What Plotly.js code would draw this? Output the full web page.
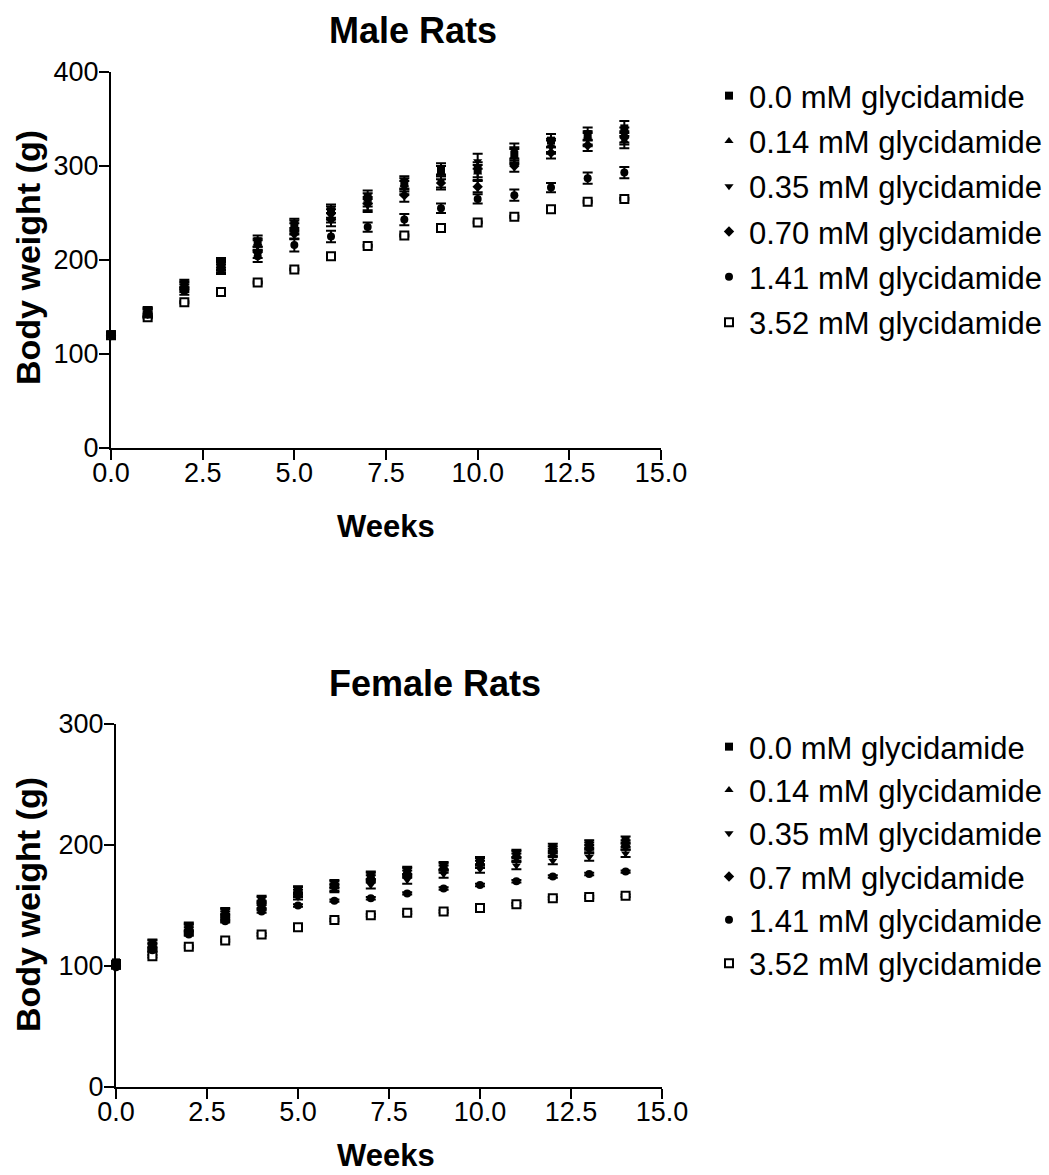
<!DOCTYPE html>
<html>
<head>
<meta charset="utf-8">
<script src="https://cdn.plot.ly/plotly-3.0.1.min.js"></script>
<style>html,body{margin:0;padding:0;background:#fff;}#chart{width:1049px;height:1175px;}</style>
</head>
<body>
<div id="chart"></div>
<script>
// ---- Data ----
var weeks = [0,1,2,3,4,5,6,7,8,9,10,11,12,13,14];

var maleNames = ["0.0 mM glycidamide","0.14 mM glycidamide","0.35 mM glycidamide","0.70 mM glycidamide","1.41 mM glycidamide","3.52 mM glycidamide"];
var femaleNames = ["0.0 mM glycidamide","0.14 mM glycidamide","0.35 mM glycidamide","0.7 mM glycidamide","1.41 mM glycidamide","3.52 mM glycidamide"];

var male_00  = [121,145,175,197,220,238,252,267,282,296,296,312,327,334,340];
var male_014 = [120,146,173,195,217,236,250,264,280,293,293,310,322,330,327];
var male_035 = [121,144,172,194,215,233,247,258,277,284,305,316,320,328,333];
var male_070 = [120,143,170,192,208,228,243,260,269,282,278,300,314,322,330];
var male_141 = [120,142,167,190,204,216,225,235,243,255,265,269,277,287,293];
var male_352 = [120,139,155,166,176,190,204,215,226,234,240,246,254,262,265];

var male_00_err  = [3,4,4,5,6,6,7,7,7,7,8,8,7,7,8];
var male_014_err = [3,4,4,5,6,6,7,7,7,7,8,8,7,7,8];
var male_035_err = [3,4,4,5,6,6,7,7,7,7,8,8,7,7,8];
var male_070_err = [3,4,4,5,6,6,7,7,7,7,6,6,6,6,7];
var male_141_err = [3,3,4,5,6,7,6,5,6,5,5,6,5,6,6];
var male_352_err = [1,1,1,1,1,1,1,1,1,1,1,1,1,1,1];

var female_00  = [103,119,133,145,155,163,168,175,179,183,187,193,198,201,204];
var female_014 = [102,118,132,144,154,162,167,174,178,182,186,192,196,199,201];
var female_035 = [101,116,131,142,151,160,164,167,171,176,180,183,187,190,193];
var female_07  = [100,115,129,140,150,158,165,172,176,180,184,190,194,197,199];
var female_141 = [99,113,126,137,145,150,154,156,160,164,167,170,174,176,178];
var female_352 = [101,108,116,121,126,132,138,142,144,145,148,151,156,157,158];

var female_err_high = [2,3,3,3,3,3,3,3,3,3,3,3,3,3,3];
var female_err_low  = [1,1,1,1,1,1,1,1,1,1,1,1,1,1,1];

var symbols = ["square","triangle-up","triangle-down","diamond","circle","square"];

// ---- Build traces (drawn from highest dose first so control sits on top) ----
var maleSeries = [male_00,male_014,male_035,male_070,male_141,male_352];
var maleErrs = [male_00_err,male_014_err,male_035_err,male_070_err,male_141_err,male_352_err];
var femaleSeries = [female_00,female_014,female_035,female_07,female_141,female_352];
var femaleErrs = [female_err_high,female_err_high,female_err_high,female_err_high,female_err_low,female_err_low];

function markerFor(i){
  var open = (i===5);
  return {symbol:symbols[i], size:8, color:(open?"#ffffff":"#000000"),
          line:{color:"#000", width:(open?2:0)}};
}

var traces = [];
for (var i = 5; i >= 0; i--) {
  traces.push({
    x: weeks, y: maleSeries[i], type:"scatter", mode:"markers", name: maleNames[i],
    xaxis:"x", yaxis:"y", legend:"legend", legendgroup:"m"+i, legendrank:(i+1)*10, cliponaxis:false,
    marker: markerFor(i),
    error_y:{type:"data", array:maleErrs[i], visible:true, color:"#000", thickness:2, width:5}
  });
}
for (var j = 5; j >= 0; j--) {
  traces.push({
    x: weeks, y: femaleSeries[j], type:"scatter", mode:"markers", name: femaleNames[j],
    xaxis:"x2", yaxis:"y2", legend:"legend2", legendgroup:"f"+j, legendrank:(j+1)*10, cliponaxis:false,
    marker: markerFor(j),
    error_y:{type:"data", array:femaleErrs[j], visible:true, color:"#000", thickness:2, width:5}
  });
}

var W = 1049, H = 1175;
function px(x){return x/W;}
function py(y){return 1 - y/H;}

var fontFam = "Arial, 'Liberation Sans', sans-serif";
var axisCommon = {
  showgrid:false, zeroline:false, showline:true, linecolor:"#000", linewidth:2,
  ticks:"outside", ticklen:10, tickwidth:2, tickcolor:"#000",
  tickfont:{family:fontFam, size:27, color:"#000"}
};
var xticks = [0,2.5,5,7.5,10,12.5,15];
var xtickText = ["0.0","2.5","5.0","7.5","10.0","12.5","15.0"];

var layout = {
  width:W, height:H, margin:{l:0,r:0,t:0,b:0},
  paper_bgcolor:"#fff", plot_bgcolor:"#fff", showlegend:true,
  font:{family:fontFam, color:"#000"},
  xaxis: Object.assign({}, axisCommon, {domain:[px(111),px(661)], range:[0,15], tickvals:xticks, ticktext:xtickText, anchor:"y", ticklabelstandoff:-10}),
  yaxis: Object.assign({}, axisCommon, {domain:[py(448),py(72)], range:[0,400], dtick:100, anchor:"x", ticklabelstandoff:-5}),
  xaxis2: Object.assign({}, axisCommon, {domain:[px(116),px(662)], range:[0,15], tickvals:xticks, ticktext:xtickText, anchor:"y2", ticklabelstandoff:-10}),
  yaxis2: Object.assign({}, axisCommon, {domain:[py(1087),py(724)], range:[0,300], dtick:100, anchor:"x2", ticklabelstandoff:-5}),
  legend:{x:px(709), y:py(69), xanchor:"left", yanchor:"top", traceorder:"grouped", font:{family:fontFam,size:31,color:"#000"}, tracegroupgap:2, bgcolor:"rgba(0,0,0,0)"},
  legend2:{x:px(709), y:py(720), xanchor:"left", yanchor:"top", traceorder:"grouped", font:{family:fontFam,size:31,color:"#000"}, tracegroupgap:0, bgcolor:"rgba(0,0,0,0)"},
  annotations:[
    {text:"<b>Male Rats</b>", x:px(413), y:py(31), xref:"paper", yref:"paper", xanchor:"center", yanchor:"middle", showarrow:false, font:{family:fontFam,size:36,color:"#000"}},
    {text:"<b>Weeks</b>", x:px(386), y:py(526), xref:"paper", yref:"paper", xanchor:"center", yanchor:"middle", showarrow:false, font:{family:fontFam,size:31,color:"#000"}},
    {text:"<b>Body weight (g)</b>", x:px(28), y:py(258), xref:"paper", yref:"paper", xanchor:"center", yanchor:"middle", textangle:-90, showarrow:false, font:{family:fontFam,size:34,color:"#000"}},
    {text:"<b>Female Rats</b>", x:px(435), y:py(683), xref:"paper", yref:"paper", xanchor:"center", yanchor:"middle", showarrow:false, font:{family:fontFam,size:36,color:"#000"}},
    {text:"<b>Weeks</b>", x:px(386), y:py(1155), xref:"paper", yref:"paper", xanchor:"center", yanchor:"middle", showarrow:false, font:{family:fontFam,size:31,color:"#000"}},
    {text:"<b>Body weight (g)</b>", x:px(28), y:py(905), xref:"paper", yref:"paper", xanchor:"center", yanchor:"middle", textangle:-90, showarrow:false, font:{family:fontFam,size:34,color:"#000"}}
  ]
};

Plotly.newPlot("chart", traces, layout, {staticPlot:true, displayModeBar:false});
</script>
</body>
</html>
